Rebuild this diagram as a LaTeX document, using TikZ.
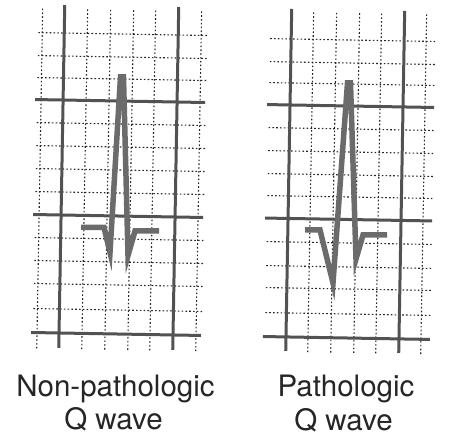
\documentclass[tikz,border=0pt]{standalone}
\usepackage{fontspec}
\setmainfont{TeX Gyre Heros}
\usepackage{tikz}
\usetikzlibrary{positioning}
\tikzset{
  majorline/.style={line width=3pt, color=black!68},
  minorline/.style={line width=1.1pt, color=black!85, dash pattern=on 1.6pt off 2.2pt},
  trace/.style={line width=5.5pt, color=black!58, line join=miter, miter limit=12},
  caption/.style={anchor=base, inner sep=0pt, font=\fontsize{29.5}{35}\selectfont, text=black!85}
}

\begin{document}
\begin{tikzpicture}[x=1pt,y=-1pt]
  \useasboundingbox (0,0) rectangle (456,443);

  % left strip
  \begin{scope}[rotate around={-1:(118,220)}]
    \foreach \x in {39,84,107,130,152,198}
      {\draw[minorline] (\x,10) -- (\x,350);}
    \foreach \y in {34,57,79,124,147,170,193,239,262,285,310}
      {\draw[minorline] (35,\y) -- (205,\y);}
    \foreach \x in {61,175}
      {\draw[majorline] (\x,6) -- (\x,349);}
    \foreach \y in {101,216,334}
      {\draw[majorline] (33,\y) -- (203,\y);}
  \end{scope}

  % right strip
  \begin{scope}[rotate around={-1:(348,222)}]
    \foreach \x in {310,333,356,378,423}
      {\draw[minorline] (\x,13) -- (\x,353);}
    \foreach \y in {40,63,84,129,152,175,197,243,267,289,314}
      {\draw[minorline] (267,\y) -- (432,\y);}
    \foreach \x in {288,401}
      {\draw[majorline] (\x,10) -- (\x,352);}
    \foreach \y in {106,219.5,338}
      {\draw[majorline] (265,\y) -- (432,\y);}
  \end{scope}

  % QRS traces
  \draw[trace] (81,227.5) -- (104,227.5) -- (110,252.5) -- (120.5,77) -- (123.5,77)
    -- (128,255.5) -- (135,231) -- (159,231);
  \draw[trace] (305,230) -- (320,230) -- (333,283) -- (347.5,83) -- (350.5,83)
    -- (356,259) -- (363,235) -- (387,235);

  \node[caption] (nonpath) at (115.5,396.5) {Non-pathologic};
  \node[caption] (nonpathq) at (113.5,430) {Q wave};
  \node[caption] (path) at (346,397) {Pathologic};
  \node[caption] (pathq) at (343.5,431) {Q wave};
\end{tikzpicture}
\end{document}
